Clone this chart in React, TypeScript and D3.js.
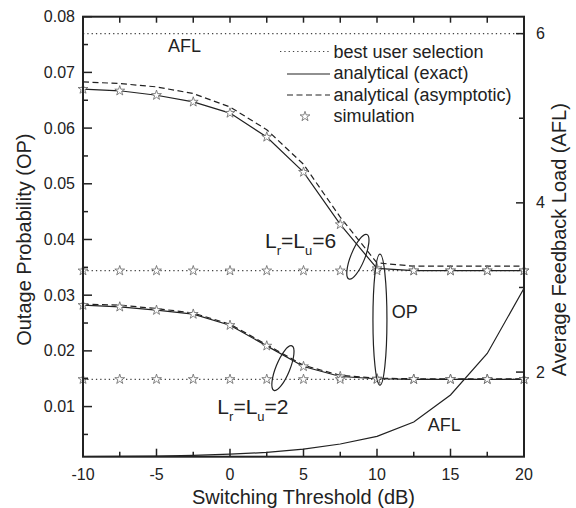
import React from "react";
import * as d3 from "d3";

// ---------- data ----------
const thresholds = [-10, -7.5, -5, -2.5, 0, 2.5, 5, 7.5, 10, 12.5, 15, 17.5, 20];
const opExactL6 = [0.0670, 0.0667, 0.0659, 0.0647, 0.0627, 0.0584, 0.0521, 0.0427, 0.0348, 0.0344, 0.0344, 0.0344, 0.0344];
const opAsymL6 = [0.0683, 0.0680, 0.0674, 0.0662, 0.0638, 0.0597, 0.0535, 0.0440, 0.0358, 0.0352, 0.0352, 0.0352, 0.0352];
const opExactL2 = [0.0282, 0.0279, 0.0273, 0.0266, 0.0246, 0.0209, 0.0172, 0.0154, 0.0150, 0.0149, 0.0149, 0.0149, 0.0149];
const opAsymL2 = [0.0284, 0.0282, 0.0276, 0.0268, 0.0248, 0.0211, 0.0174, 0.0156, 0.0151, 0.0150, 0.0150, 0.0150, 0.0150];
const bestUserOp = [0.0344, 0.0149];
const bestUserAfl = 6;
const aflValues = [1.001, 1.003, 1.007, 1.015, 1.03, 1.05, 1.09, 1.15, 1.24, 1.41, 1.73, 2.22, 2.99];

const xTickLabels = [-10, -5, 0, 5, 10, 15, 20];
const yLeftTickLabels = [0.01, 0.02, 0.03, 0.04, 0.05, 0.06, 0.07, 0.08];
const yRightTickLabels = [2, 4, 6];
const legendLabels = ["best user selection", "analytical (exact)", "analytical (asymptotic)", "simulation"];

// annotations in data coordinates (x in dB, y in OP)
const ellipses = [
  { x: 8.7, y: 0.0369, rx: 7, ry: 24, angle: 22 },
  { x: 3.6, y: 0.0169, rx: 7, ry: 24, angle: 22 },
  { x: 10.2, y: 0.0256, rx: 7, ry: 65.5, angle: 0 },
];

const W = 576;
const H = 508;
const L = 83, R = 524, T = 16.7, B = 456.7;
const FONT = "'Liberation Sans', Arial, Helvetica, sans-serif";
const INK = "#222";

export default function App() {
  const x = d3.scaleLinear().domain([-10, 20]).range([L, R]);
  const yL = d3.scaleLinear().domain([0.001, 0.08]).range([B, T]);
  const yR = d3.scaleLinear().domain([1, 6.2]).range([B, T]);

  const lineL = (vals: number[]) =>
    d3.line<number>().x((_, i) => x(thresholds[i])).y((v) => yL(v))(vals) as string;
  const lineAfl = d3.line<number>().x((_, i) => x(thresholds[i])).y((v) => yR(v))(aflValues) as string;

  const star = d3.symbol().type(d3.symbolStar).size(30)() as string;

  const starStyle = { fill: "#fff", stroke: "#666", strokeWidth: 0.8 };
  const dotted = { fill: "none", stroke: "#444", strokeWidth: 1.2, strokeDasharray: "1.3,3" };

  const xMinor = d3.range(-7.5, 20, 2.5).filter((v) => Math.abs(v % 5) > 0.1);
  const xTop = d3.range(-7.5, 20, 2.5);
  const yLMinor = d3.range(0.005, 0.08, 0.01);
  const yRMinor = [3, 5];

  const sub = (main: string, s1: string, s2: string, end: string) => (
    <>
      {main}
      <tspan fontSize={13} dy={7}>{s1}</tspan>
      <tspan dy={-7}>=L</tspan>
      <tspan fontSize={13} dy={7}>{s2}</tspan>
      <tspan dy={-7}>{end}</tspan>
    </>
  );

  return (
    <svg width={W} height={H} style={{ position: "absolute", left: 0, top: 0, background: "#fff" }} fontFamily={FONT}>
      <defs>
        <clipPath id="plot">
          <rect x={L} y={T} width={R - L} height={B - T} />
        </clipPath>
      </defs>

      {/* best user selection dotted lines */}
      <line x1={L} x2={R} y1={yR(bestUserAfl)} y2={yR(bestUserAfl)} style={dotted} />
      {bestUserOp.map((v, i) => (
        <line key={i} x1={L} x2={R} y1={yL(v)} y2={yL(v)} style={dotted} />
      ))}

      {/* analytical curves */}
      <g clipPath="url(#plot)">
        <path d={lineL(opAsymL6)} fill="none" stroke={INK} strokeWidth={1.2} strokeDasharray="6,3.5" />
        <path d={lineL(opAsymL2)} fill="none" stroke={INK} strokeWidth={1.2} strokeDasharray="6,3.5" />
        <path d={lineL(opExactL6)} fill="none" stroke={INK} strokeWidth={1.2} />
        <path d={lineL(opExactL2)} fill="none" stroke={INK} strokeWidth={1.2} />
        <path d={lineAfl} fill="none" stroke={INK} strokeWidth={1.2} />
      </g>

      {/* simulation stars */}
      {[opExactL6, opExactL2].map((s, si) =>
        s.map((v, i) => (
          <path key={`e${si}-${i}`} d={star} transform={`translate(${x(thresholds[i])},${yL(v)})`} style={starStyle} />
        ))
      )}
      {bestUserOp.map((v, si) =>
        thresholds.map((t, i) => (
          <path key={`b${si}-${i}`} d={star} transform={`translate(${x(t)},${yL(v)})`} style={starStyle} />
        ))
      )}

      {/* ellipses */}
      {ellipses.map((e, i) => (
        <ellipse
          key={i}
          cx={0}
          cy={0}
          rx={e.rx}
          ry={e.ry}
          transform={`translate(${x(e.x)},${yL(e.y)}) rotate(${e.angle})`}
          fill="none"
          stroke={INK}
          strokeWidth={1.2}
        />
      ))}

      {/* annotation labels */}
      <text x={x(2.38)} y={yL(0.0385)} fontSize={21} fill={INK}>{sub("L", "r", "u", "=6")}</text>
      <text x={x(-0.86)} y={yL(0.0087)} fontSize={21} fill={INK}>{sub("L", "r", "u", "=2")}</text>
      <text x={x(11.0)} y={yL(0.0259)} fontSize={18} fill={INK}>OP</text>
      <text x={x(13.45)} y={yL(0.0056)} fontSize={18} fill={INK}>AFL</text>
      <text x={x(-4.22)} y={yL(0.0736)} fontSize={18} fill={INK}>AFL</text>

      {/* legend */}
      <g fontSize={18} fill={INK}>
        <line x1={280} x2={330} y1={51.5} y2={51.5} style={dotted} />
        <line x1={287} x2={330} y1={74} y2={74} stroke={INK} strokeWidth={1.2} />
        <line x1={287} x2={330} y1={95} y2={95} stroke={INK} strokeWidth={1.2} strokeDasharray="6,3.5" />
        <path d={star} transform="translate(305,116.5)" style={starStyle} />
        {legendLabels.map((t, i) => (
          <text key={t} x={333.5} y={57.5 + i * 21.6}>{t}</text>
        ))}
      </g>

      {/* frame */}
      <rect x={L} y={T} width={R - L} height={B - T} fill="none" stroke={INK} strokeWidth={2} />

      {/* bottom axis ticks */}
      {xTickLabels.map((v) => (
        <g key={`xt${v}`}>
          <line x1={x(v)} x2={x(v)} y1={B} y2={B - 8} stroke={INK} strokeWidth={1.5} />
          <text x={x(v)} y={474.7} dy="0.35em" textAnchor="middle" fontSize={16} fill={INK}>{v}</text>
        </g>
      ))}
      {xMinor.map((v) => (
        <line key={`xm${v}`} x1={x(v)} x2={x(v)} y1={B} y2={B - 5} stroke={INK} strokeWidth={1.5} />
      ))}
      {xTop.map((v) => (
        <line key={`xtop${v}`} x1={x(v)} x2={x(v)} y1={T} y2={T + 6} stroke={INK} strokeWidth={1.5} />
      ))}

      {/* left axis ticks */}
      {yLeftTickLabels.map((v) => (
        <g key={`yl${v}`}>
          <line x1={L} x2={L + 9} y1={yL(v)} y2={yL(v)} stroke={INK} strokeWidth={1.5} />
          <text x={75} y={yL(v)} dy="0.35em" textAnchor="end" fontSize={16} fill={INK}>{v.toFixed(2)}</text>
        </g>
      ))}
      {yLMinor.map((v) => (
        <line key={`ylm${v}`} x1={L} x2={L + 5} y1={yL(v)} y2={yL(v)} stroke={INK} strokeWidth={1.5} />
      ))}

      {/* right axis ticks */}
      {yRightTickLabels.map((v) => (
        <g key={`yr${v}`}>
          <line x1={R} x2={R - 8} y1={yR(v)} y2={yR(v)} stroke={INK} strokeWidth={1.5} />
          <text x={536} y={yR(v)} dy="0.35em" textAnchor="start" fontSize={16} fill={INK}>{v}</text>
        </g>
      ))}
      {yRMinor.map((v) => (
        <line key={`yrm${v}`} x1={R} x2={R - 5} y1={yR(v)} y2={yR(v)} stroke={INK} strokeWidth={1.5} />
      ))}

      {/* axis titles */}
      <text x={(L + R) / 2} y={496.8} dy="0.35em" textAnchor="middle" fontSize={20} fill={INK}>
        Switching Threshold (dB)
      </text>
      <text transform={`translate(24,${(T + B) / 2 + 3}) rotate(-90)`} dy="0.35em" textAnchor="middle" fontSize={20} fill={INK}>
        Outage Probability (OP)
      </text>
      <text transform={`translate(559,${(T + B) / 2 + 3}) rotate(-90)`} dy="0.35em" textAnchor="middle" fontSize={20} fill={INK}>
        Average Feedback Load (AFL)
      </text>
    </svg>
  );
}
